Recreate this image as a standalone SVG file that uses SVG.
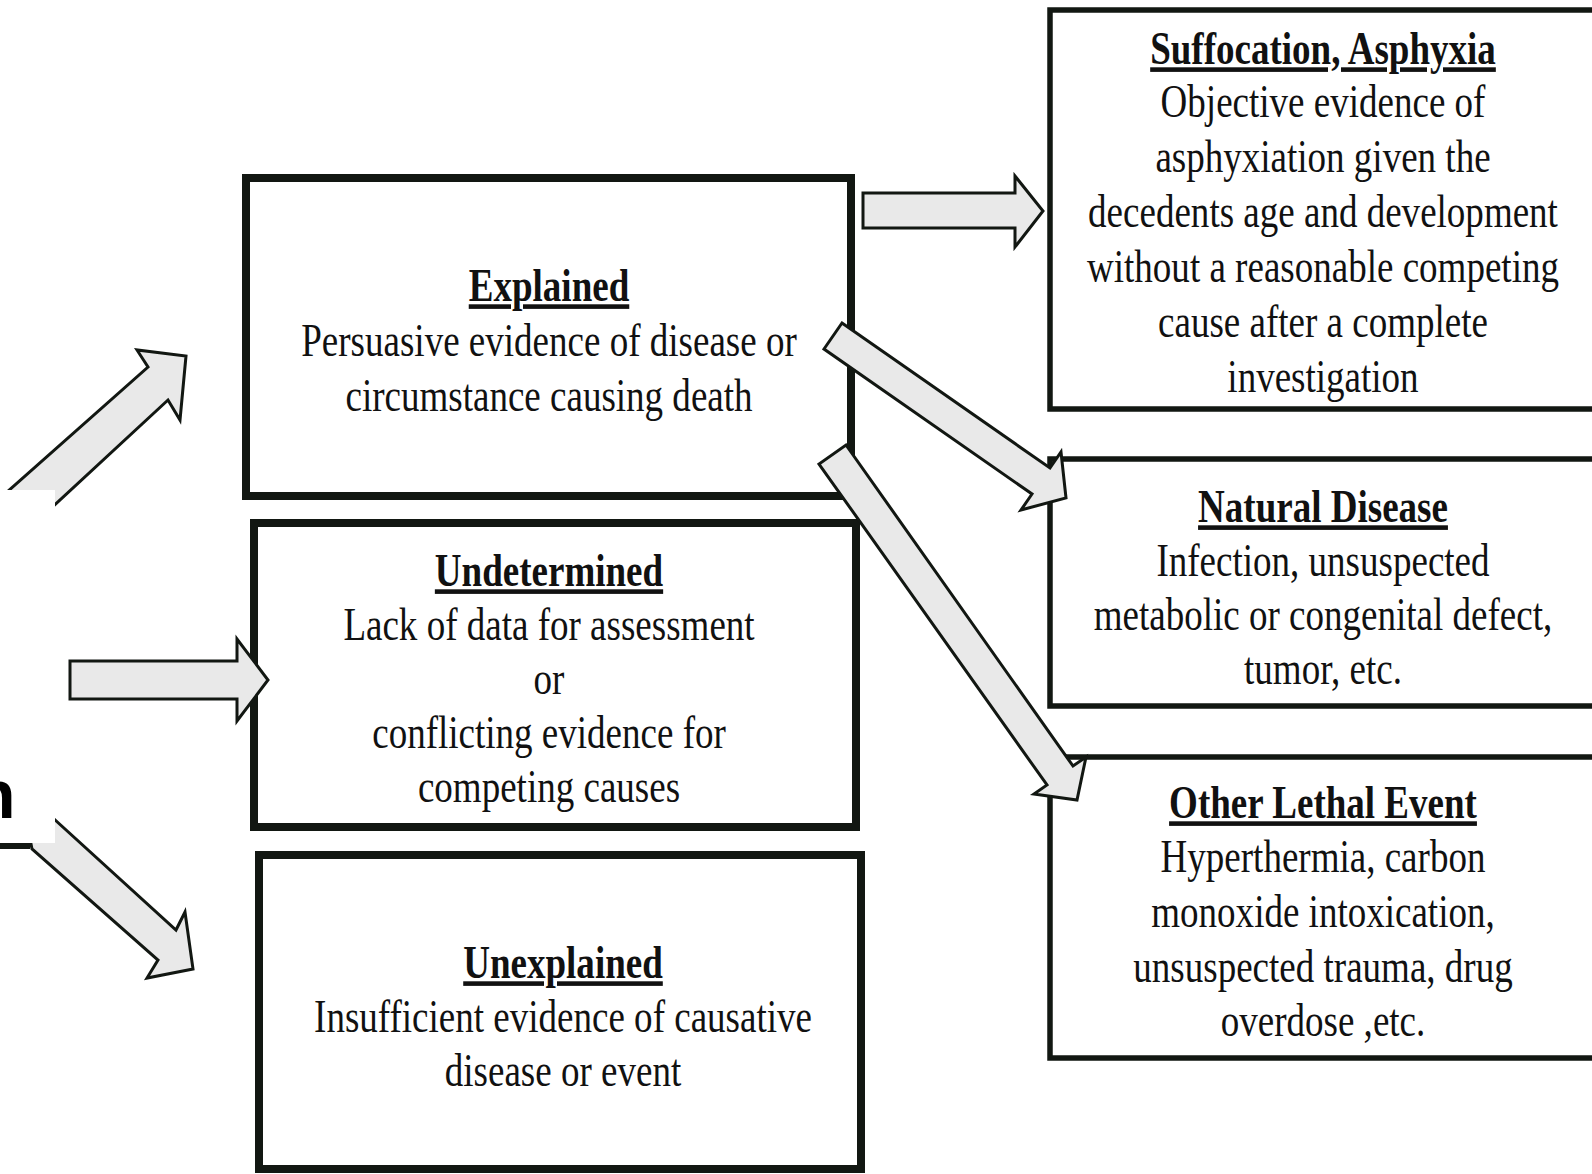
<svg xmlns="http://www.w3.org/2000/svg" width="1592" height="1174" viewBox="0 0 1592 1174">
<style>
.box{fill:#fff;stroke:#121712;}
.thick{stroke-width:8;}
.thin{stroke-width:5.5;}
.arrow{fill:#e9e9e9;stroke:#121712;stroke-width:3;stroke-linejoin:miter;}
.t{font-family:"Liberation Serif","Times New Roman",serif;font-size:46px;fill:#111;text-anchor:middle;}
.h{font-weight:bold;text-decoration:underline;}
</style>
<rect width="1592" height="1174" fill="#fff"/>

<g id="node-explained">
<rect class="box thick" x="246" y="178" width="605" height="318"/>
<g transform="translate(549 0) scale(0.805 1)">
<text class="t h" x="0" y="301">Explained</text>
<text class="t" x="0" y="356">Persuasive evidence of disease or</text>
<text class="t" x="0" y="411">circumstance causing death</text>
</g>
</g>

<g id="node-undetermined">
<rect class="box thick" x="254" y="523" width="602" height="304"/>
<g transform="translate(549 0) scale(0.805 1)">
<text class="t h" x="0" y="586">Undetermined</text>
<text class="t" x="0" y="640">Lack of data for assessment</text>
<text class="t" x="0" y="694">or</text>
<text class="t" x="0" y="748">conflicting evidence for</text>
<text class="t" x="0" y="802">competing causes</text>
</g>
</g>

<g id="node-unexplained">
<rect class="box thick" x="259" y="855" width="602" height="314"/>
<g transform="translate(563 0) scale(0.805 1)">
<text class="t h" x="0" y="978">Unexplained</text>
<text class="t" x="0" y="1032">Insufficient evidence of causative</text>
<text class="t" x="0" y="1086">disease or event</text>
</g>
</g>

<g id="node-suffocation">
<rect class="box thin" x="1050" y="10" width="560" height="399"/>
<g transform="translate(1323 0) scale(0.805 1)">
<text class="t h" x="0" y="64">Suffocation, Asphyxia</text>
<text class="t" x="0" y="117">Objective evidence of</text>
<text class="t" x="0" y="172">asphyxiation given the</text>
<text class="t" x="0" y="227">decedents age and development</text>
<text class="t" x="0" y="282">without a reasonable competing</text>
<text class="t" x="0" y="337">cause after a complete</text>
<text class="t" x="0" y="392">investigation</text>
</g>
</g>

<g id="node-natural">
<rect class="box thin" x="1050" y="459" width="560" height="247"/>
<g transform="translate(1323 0) scale(0.805 1)">
<text class="t h" x="0" y="522">Natural Disease</text>
<text class="t" x="0" y="576">Infection, unsuspected</text>
<text class="t" x="0" y="630">metabolic or congenital defect,</text>
<text class="t" x="0" y="684">tumor, etc.</text>
</g>
</g>

<g id="node-other">
<rect class="box thin" x="1050" y="757" width="560" height="301"/>
<g transform="translate(1323 0) scale(0.805 1)">
<text class="t h" x="0" y="818">Other Lethal Event</text>
<text class="t" x="0" y="872">Hyperthermia, carbon</text>
<text class="t" x="0" y="927">monoxide intoxication,</text>
<text class="t" x="0" y="982">unsuspected trauma, drug</text>
<text class="t" x="0" y="1036">overdose ,etc.</text>
</g>
</g>

<g id="connectors">
<polygon class="arrow" points="-10,507 148,367 137,350 186,356 180,420 168,400 20,537"/>
<polygon class="arrow" points="70,661 237,661 237,639 268,680 237,721 237,699 70,699"/>
<polygon class="arrow" points="20,788 176,930 185,912 193,969 147,978 158,960 32,849"/>
<polygon class="arrow" points="863,193 1015,193 1015,176 1043,211 1015,247 1015,228 863,228"/>
<polygon class="arrow" points="842,323 1050,468 1061,452 1066,498 1021,510 1032,494 824,349"/>
<polygon class="arrow" points="846,445 1073,766 1086,757 1077,800 1034,794 1047,785 819,464"/>
</g>

<g id="node-cropped-left">
<rect x="0" y="490" width="55" height="353" fill="#fff"/>
<line x1="0" y1="846" x2="30" y2="846" stroke="#121712" stroke-width="6"/>
<text x="-26" y="818" font-family="Liberation Sans, Arial, sans-serif" font-weight="bold" font-size="68" fill="#000">n</text>
</g>
</svg>
